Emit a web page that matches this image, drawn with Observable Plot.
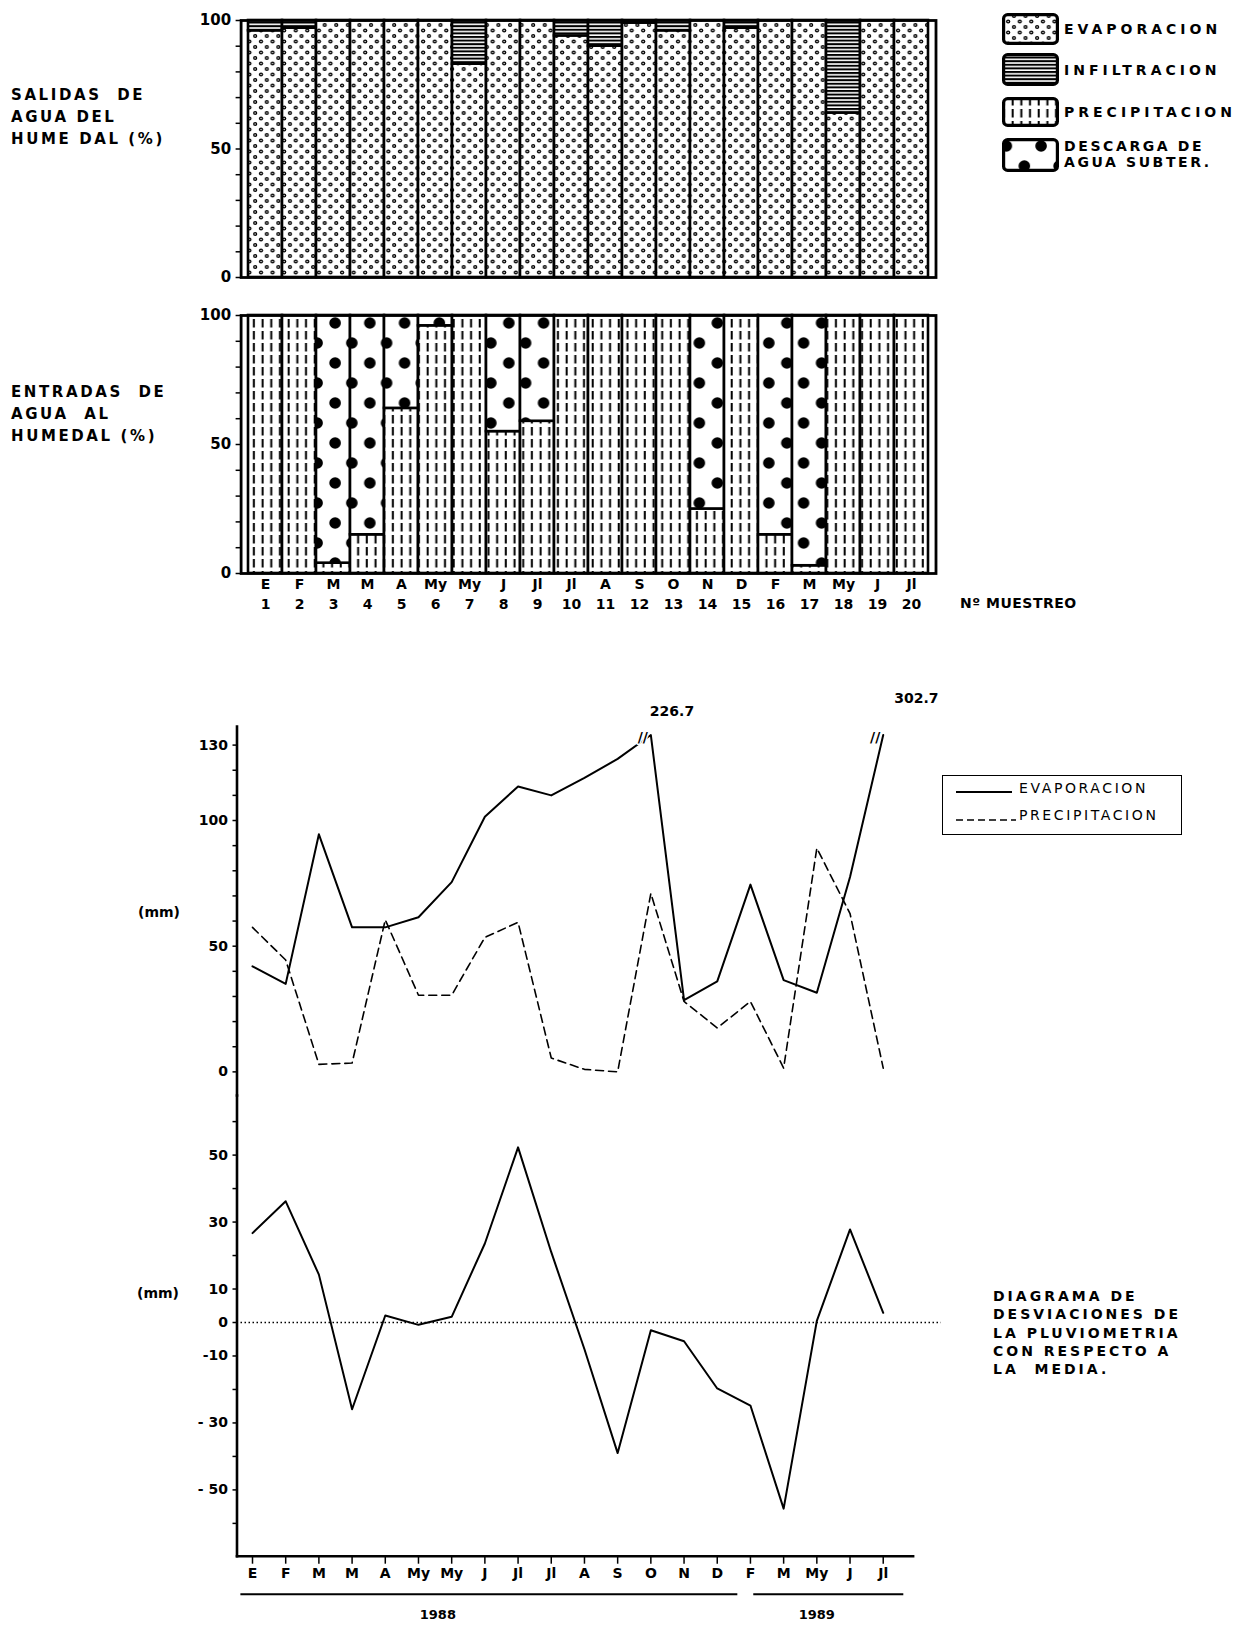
<!DOCTYPE html>
<html><head><meta charset="utf-8">
<script src="https://cdn.jsdelivr.net/npm/d3@7"></script>
<script src="https://cdn.jsdelivr.net/npm/@observablehq/plot@0.6"></script>
<style>
body{margin:0;background:#fff;}
#page{position:relative;width:1258px;height:1626px;background:#fff;font-family:"DejaVu Sans",sans-serif;font-weight:bold;color:#000;overflow:hidden;}
.abs{position:absolute;white-space:pre;}
.side{font-size:15px;letter-spacing:2.6px;line-height:22px;}
.leg{font-size:14px;letter-spacing:4px;line-height:16px;}
</style></head><body>
<svg width="0" height="0" style="position:absolute">
<defs>
<pattern id="pEvap" patternUnits="userSpaceOnUse" x="240.6" y="0" width="11.583" height="11">
  <rect width="11.583" height="11" fill="white"/>
  <circle cx="3" cy="3" r="2.1" fill="black"/><circle cx="3" cy="3" r="0.7" fill="white"/>
  <circle cx="8.8" cy="8.5" r="2.1" fill="black"/><circle cx="8.8" cy="8.5" r="0.7" fill="white"/>
</pattern>
<pattern id="pInfil" patternUnits="userSpaceOnUse" width="10" height="3.6">
  <rect width="10" height="3.6" fill="white"/><rect width="10" height="2" fill="black"/>
</pattern>
<pattern id="pPrecip" patternUnits="userSpaceOnUse" x="240.6" y="0" width="8.6875" height="12">
  <rect width="8.6875" height="12" fill="white"/><rect x="3.6" y="0" width="2" height="8.5" fill="black"/>
</pattern>
<pattern id="pDesc" patternUnits="userSpaceOnUse" x="240.6" y="0" width="34.75" height="40">
  <rect width="34.75" height="40" fill="white"/>
  <circle cx="7" cy="8" r="5.8" fill="black"/><circle cx="25" cy="28" r="5.8" fill="black"/>
</pattern>
</defs></svg>
<div id="page">
  <div class="abs side" style="left:11px;top:84px;">SALIDAS  DE
AGUA DEL
HUME DAL (%)</div>
  <div class="abs side" style="left:11px;top:381px;">ENTRADAS  DE
AGUA  AL
HUMEDAL (%)</div>
  <div class="abs" style="left:960px;top:595px;font-size:14px;letter-spacing:0.5px;">Nº MUESTREO</div>
  <div class="abs" style="left:138px;top:904px;font-size:14px;">(mm)</div>
  <div class="abs" style="left:137px;top:1285px;font-size:14px;">(mm)</div>
  <div class="abs" style="left:993px;top:1287px;font-size:14px;letter-spacing:3px;line-height:18.3px;">DIAGRAMA DE
DESVIACIONES DE
LA PLUVIOMETRIA
CON RESPECTO A
LA  MEDIA.</div>
  <div id="legTop"></div>
  <div class="abs" style="left:942px;top:775px;width:238px;height:58px;border:1.6px solid #000;font-weight:normal;font-size:14px;letter-spacing:2.6px;">
    <div class="abs" style="left:13px;top:8px;"><svg width="56" height="10"><line x1="0" y1="5" x2="56" y2="5" stroke="black" stroke-width="1.8"/></svg></div>
    <div class="abs" style="left:76px;top:4px;">EVAPORACION</div>
    <div class="abs" style="left:13px;top:36px;"><svg width="60" height="10"><line x1="0" y1="5" x2="60" y2="5" stroke="black" stroke-width="1.6" stroke-dasharray="7,4"/></svg></div>
    <div class="abs" style="left:76px;top:31px;">PRECIPITACION</div>
  </div>
  <div id="c1" class="abs" style="left:0;top:0;"></div>
  <div id="c2" class="abs" style="left:0;top:295px;"></div>
  <div id="c3" class="abs" style="left:0;top:680px;"></div>
  <div id="c4" class="abs" style="left:0;top:1095px;"></div>
</div>
<script>
// ---------- data ----------
const samples = d3.range(1, 21);
const months = ["E","F","M","M","A","My","My","J","Jl","Jl","A","S","O","N","D","F","M","My","J","Jl"];
// salidas de agua (%)
const evapPct  = [96, 97, 100, 100, 100, 100, 83, 100, 100, 94, 90, 99, 96, 100, 97, 100, 100, 64, 100, 100];
const infilPct = [4, 3, 0, 0, 0, 0, 17, 0, 0, 6, 10, 1, 4, 0, 3, 0, 0, 36, 0, 0];
// entradas de agua (%)
const precipPct = [100, 100, 4, 15, 64, 96, 100, 55, 59, 100, 100, 100, 100, 25, 100, 15, 3, 100, 100, 100];
const descPct   = [0, 0, 96, 85, 36, 4, 0, 45, 41, 0, 0, 0, 0, 75, 0, 85, 97, 0, 0, 0];
// evaporacion / precipitacion (mm)
const evapMm   = [42, 35, 94.5, 57.5, 57.5, 61.5, 75.5, 101.5, 113.5, 110, 117, 124.5, 226.7, 28.5, 36, 74.5, 36.5, 31.5, 77.5, 302.7];
const precipMm = [57.5, 44.5, 3, 3.5, 60.5, 30.5, 30.5, 53.5, 59.5, 5.5, 1, 0, 71, 28, 17.5, 28, 1.5, 89, 63, 1.5];
// desviaciones de la pluviometria (mm)
const devMm = [26.7, 36.2, 14.3, -25.9, 2.1, -0.7, 1.7, 23.6, 52.3, 21, -8, -39, -2.3, -5.6, -19.7, -24.8, -55.6, 0.5, 27.8, 2.9];
const years = [{year: "1988", first: 1, last: 15}, {year: "1989", first: 16, last: 20}];
const seriesSal = ["EVAPORACION", "INFILTRACION"];
const seriesEnt = ["PRECIPITACION", "DESCARGA DE AGUA SUBTER."];
const fills = {"EVAPORACION": "url(#pEvap)", "INFILTRACION": "url(#pInfil)", "PRECIPITACION": "url(#pPrecip)", "DESCARGA DE AGUA SUBTER.": "url(#pDesc)"};

const FONT = '"DejaVu Sans", sans-serif';
const baseStyle = {fontFamily: FONT, fontSize: "14px", fontWeight: "bold", background: "transparent", color: "black", overflow: "visible"};

// ---------- top legend ----------
const legItems = [
  {key: "EVAPORACION", text: "EVAPORACION", top: 13, h: 32},
  {key: "INFILTRACION", text: "INFILTRACION", top: 53, h: 33},
  {key: "PRECIPITACION", text: "PRECIPITACION", top: 97, h: 30},
  {key: "DESCARGA DE AGUA SUBTER.", text: "DESCARGA DE\nAGUA SUBTER.", top: 138, h: 34}
];
const legTop = document.getElementById("legTop");
legItems.forEach(it => {
  const box = document.createElement("div");
  box.className = "abs";
  box.style.left = "1002px"; box.style.top = it.top + "px";
  box.innerHTML = `<svg width="57" height="${it.h}"><rect x="1.6" y="1.6" width="53.8" height="${it.h - 3.2}" rx="4" fill="${fills[it.key]}" stroke="black" stroke-width="3.2"/></svg>`;
  legTop.appendChild(box);
  const t = document.createElement("div");
  t.className = "abs leg";
  t.style.left = "1064px";
  const lines = it.text.split("\n").length;
  t.style.top = (it.top + it.h / 2 - lines * 8 - (lines > 1 ? 1 : 0)) + "px";
  t.textContent = it.text;
  if (lines > 1) { t.style.letterSpacing = "2.6px"; }
  legTop.appendChild(t);
});

// ---------- bar charts ----------
const salidas = samples.flatMap((s, i) => [
  {s, serie: seriesSal[0], v: evapPct[i]},
  {s, serie: seriesSal[1], v: infilPct[i]}
]).filter(d => d.v > 0);
const entradas = samples.flatMap((s, i) => [
  {s, serie: seriesEnt[0], v: precipPct[i]},
  {s, serie: seriesEnt[1], v: descPct[i]}
]).filter(d => d.v > 0);

function barChart(data, series, withX) {
  return Plot.plot({
    width: 960, height: withX ? 323 : 290,
    marginLeft: 240.6, marginRight: 24.5, marginTop: 20, marginBottom: withX ? 45 : 13,
    style: baseStyle,
    x: {domain: samples, padding: 0, axis: null},
    y: {domain: [0, 100], axis: null},
    color: {domain: series, range: series.map(k => fills[k])},
    marks: [
      Plot.barY(data, Plot.stackY({order: null}, {x: "s", y: "v", fill: "serie", stroke: "black", strokeWidth: 2.6, inset: 0})),
      Plot.frame({stroke: "black", strokeWidth: 2.8}),
      Plot.axisY({ticks: d3.range(0, 101, 10), tickSize: 5, tickPadding: 5, strokeWidth: 1.5, label: null,
        tickFormat: d => d % 50 === 0 ? String(d) : "", fontSize: 15, fontWeight: "bold"}),
      ...(withX ? [
        Plot.axisX({tickSize: 0, tickPadding: 6, label: null, tickFormat: s => months[s - 1], fontSize: 14, fontWeight: "bold"}),
        Plot.axisX({tickSize: 0, tickPadding: 26, label: null, tickFormat: s => String(s), fontSize: 14, fontWeight: "bold"})
      ] : [])
    ]
  });
}
document.getElementById("c1").appendChild(barChart(salidas, seriesSal, false));
document.getElementById("c2").appendChild(barChart(entradas, seriesEnt, true));

// ---------- line chart (evaporacion / precipitacion) ----------
const CAP = 134;
const mm = samples.map((s, i) => ({s, evap: evapMm[i], precip: precipMm[i], dev: devMm[i]}));
const broken = mm.filter(d => d.evap > CAP);
const xDomain = [0.533, 20.9];
const capY = d => Math.min(d.evap, CAP);

const upper = Plot.plot({
  width: 960, height: 415,
  marginLeft: 236.5, marginRight: 47.4, marginTop: 46, marginBottom: 0,
  style: baseStyle,
  x: {domain: xDomain, axis: null},
  y: {domain: [-9.4, 137.4]},
  marks: [
    Plot.frame({anchor: "left", stroke: "black", strokeWidth: 2.6}),
    Plot.axisY({ticks: d3.range(0, 131, 10), tickSize: 4, tickPadding: 5, strokeWidth: 1.5, label: null,
      tickFormat: d => [0, 50, 100, 130].includes(d) ? String(d) : "", fontSize: 14, fontWeight: "bold"}),
    Plot.line(mm, {x: "s", y: "precip", stroke: "black", strokeWidth: 1.6, strokeDasharray: "8,5"}),
    Plot.line(mm, {x: "s", y: capY, stroke: "black", strokeWidth: 2}),
    Plot.text(broken, {x: "s", y: capY, text: () => "//", dx: -8, dy: 2, fontSize: 14, fontWeight: "bold", fill: "black", stroke: "white", strokeWidth: 3, paintOrder: "stroke"}),
    Plot.text(broken.slice(0, 1), {x: "s", y: capY, text: d => d.evap.toFixed(1), textAnchor: "start", dx: -1, dy: -24, fontSize: 14, fontWeight: "bold"}),
    Plot.text(broken.slice(1), {x: "s", y: capY, text: d => d.evap.toFixed(1), textAnchor: "start", dx: 11, dy: -37, fontSize: 14, fontWeight: "bold"})
  ]
});
document.getElementById("c3").appendChild(upper);

// ---------- desviaciones ----------
const devLabels = new Map([[50, "50"], [30, "30"], [10, "10"], [0, "0"], [-10, "-10"], [-30, "- 30"], [-50, "- 50"]]);
const yMin = -69.8;
const lower = Plot.plot({
  width: 960, height: 531,
  marginLeft: 236.5, marginRight: 47.4, marginTop: 0, marginBottom: 70.3,
  style: baseStyle,
  x: {domain: xDomain},
  y: {domain: [yMin, 67.8]},
  marks: [
    Plot.ruleY([0], {x1: xDomain[0], x2: 21.75, stroke: "black", strokeWidth: 1.6, strokeDasharray: "1.5,2.5"}),
    Plot.frame({anchor: "left", stroke: "black", strokeWidth: 2.6}),
    Plot.frame({anchor: "bottom", stroke: "black", strokeWidth: 2.6}),
    Plot.axisY({ticks: d3.range(-60, 61, 10), tickSize: 4, tickPadding: 5, strokeWidth: 1.5, label: null,
      tickFormat: d => devLabels.get(d) ?? "", fontSize: 14, fontWeight: "bold"}),
    Plot.axisX({ticks: samples, tickSize: 8, tickPadding: 4, strokeWidth: 1.5, label: null,
      tickFormat: s => months[s - 1], fontSize: 14, fontWeight: "bold"}),
    Plot.line(mm, {x: "s", y: "dev", stroke: "black", strokeWidth: 2}),
    Plot.ruleY(years, {y: () => yMin, x1: (d, i) => i === 0 ? d.first - 0.35 : d.first + 0.1, x2: d => d.last + 0.62, dy: 38, stroke: "black", strokeWidth: 2}),
    Plot.text(years.slice(0, 1), {x: d => (d.first + d.last) / 2, y: () => yMin, text: "year", dy: 59, dx: -47, fontSize: 13, fontWeight: "bold"}),
    Plot.text(years.slice(1), {x: d => (d.first + d.last) / 2, y: () => yMin, text: "year", dy: 59, fontSize: 13, fontWeight: "bold"})
  ]
});
document.getElementById("c4").appendChild(lower);
</script>
</body></html>
